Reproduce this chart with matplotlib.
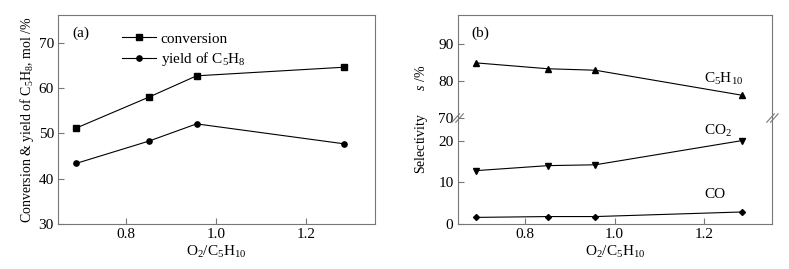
import numpy as np
import matplotlib
matplotlib.use('Agg')
import matplotlib.pyplot as plt

plt.rcParams['font.family'] = 'Liberation Serif'
plt.rcParams['mathtext.fontset'] = 'custom'
plt.rcParams['mathtext.rm'] = 'Liberation Serif'
plt.rcParams['mathtext.it'] = 'Liberation Serif:italic'
plt.rcParams['font.size'] = 11

ratio = [0.690, 0.851, 0.957, 1.285]
conversion = [51.2, 58.0, 62.7, 64.6]
yield_c5h8 = [43.4, 48.3, 52.1, 47.7]
sel_c5h10 = [85.0, 83.4, 83.0, 76.2]
sel_co2 = [12.8, 14.0, 14.2, 20.0]
sel_co = [1.6, 1.8, 1.8, 2.9]

spine_col = '#777777'
BRK = 25.4   # lower part top
UP0 = 70.0   # upper part start
K = 0.881    # upper part scale

def fwd(y):
    y = np.asarray(y, dtype=float)
    return np.where(y <= BRK, y, np.where(y < UP0, BRK, BRK + (y - UP0) * K))

def inv(u):
    u = np.asarray(u, dtype=float)
    return np.where(u <= BRK, u, UP0 + (u - BRK) / K)

fig = plt.figure(figsize=(7.89, 2.69), dpi=100)
ax1 = fig.add_axes([0.0735, 0.167, 0.4015, 0.777])
ax2 = fig.add_axes([0.580, 0.167, 0.399, 0.777])

xlab = 'O$_2$/C$_5$H$_{10}$'

# (a)
ax1.plot(ratio, conversion, 'k-s', lw=0.8, ms=3.8, label='conversion')
ax1.plot(ratio, yield_c5h8, 'k-o', lw=0.8, ms=3.8, label='yield of C$_5$H$_8$')
ax1.set_xlim(0.649, 1.353)
ax1.set_ylim(30, 76.1)
ax1.set_yticks([30, 40, 50, 60, 70])
ax1.set_xticks([0.8, 1.0, 1.2])
ax1.set_xlabel(xlab, labelpad=2)
ax1.set_ylabel('Conversion & yield of C$_5$H$_8$, mol /%', labelpad=2, fontsize=10)
ax1.text(0.045, 0.915, '(a)', transform=ax1.transAxes, va='center')
ax1.legend(loc='upper left', bbox_to_anchor=(0.16, 0.985), frameon=False,
           handlelength=2.2, handletextpad=0.3, labelspacing=0.3)

# (b)
ax2.set_yscale('function', functions=(fwd, inv))
ax2.plot(ratio, sel_c5h10, 'k-^', lw=0.8, ms=3.8)
ax2.plot(ratio, sel_co2, 'k-v', lw=0.8, ms=3.8)
ax2.plot(ratio, sel_co, 'k-D', lw=0.8, ms=3.0)
ax2.set_xlim(0.649, 1.353)
ax2.set_ylim(0, 98.0)
ax2.set_yticks([0, 10, 20, 70, 80, 90])
ax2.set_yticklabels(['0', '10', '20', '70', '80', '90'])
ax2.minorticks_off()
ax2.set_xticks([0.8, 1.0, 1.2])
ax2.set_xlabel(xlab, labelpad=2)
ax2.set_ylabel('Selectivity       $s$ /%', labelpad=6, fontsize=10)
ax2.text(0.045, 0.915, '(b)', transform=ax2.transAxes, va='center')
ax2.text(1.20, 80.5, 'C$_5$H$_{10}$', ha='left', va='center')
ax2.text(1.20, 22.2, 'CO$_2$', ha='left', va='center')
ax2.text(1.20, 7.0, 'CO', ha='left', va='center')

# break marks
yb = (BRK) / (BRK + (98.0 - UP0) * K)
for xx in (0.0, 1.0):
    for dx in (-0.006, 0.006):
        ax2.plot([xx + dx - 0.012, xx + dx + 0.012], [yb - 0.02, yb + 0.02],
                 transform=ax2.transAxes, color=spine_col, lw=0.8, clip_on=False)

for ax in (ax1, ax2):
    for s in ax.spines.values():
        s.set_color(spine_col)
        s.set_linewidth(0.8)
    ax.tick_params(direction='in', length=4, width=0.8, color=spine_col, pad=3)

fig.savefig('out.png', dpi=100)
